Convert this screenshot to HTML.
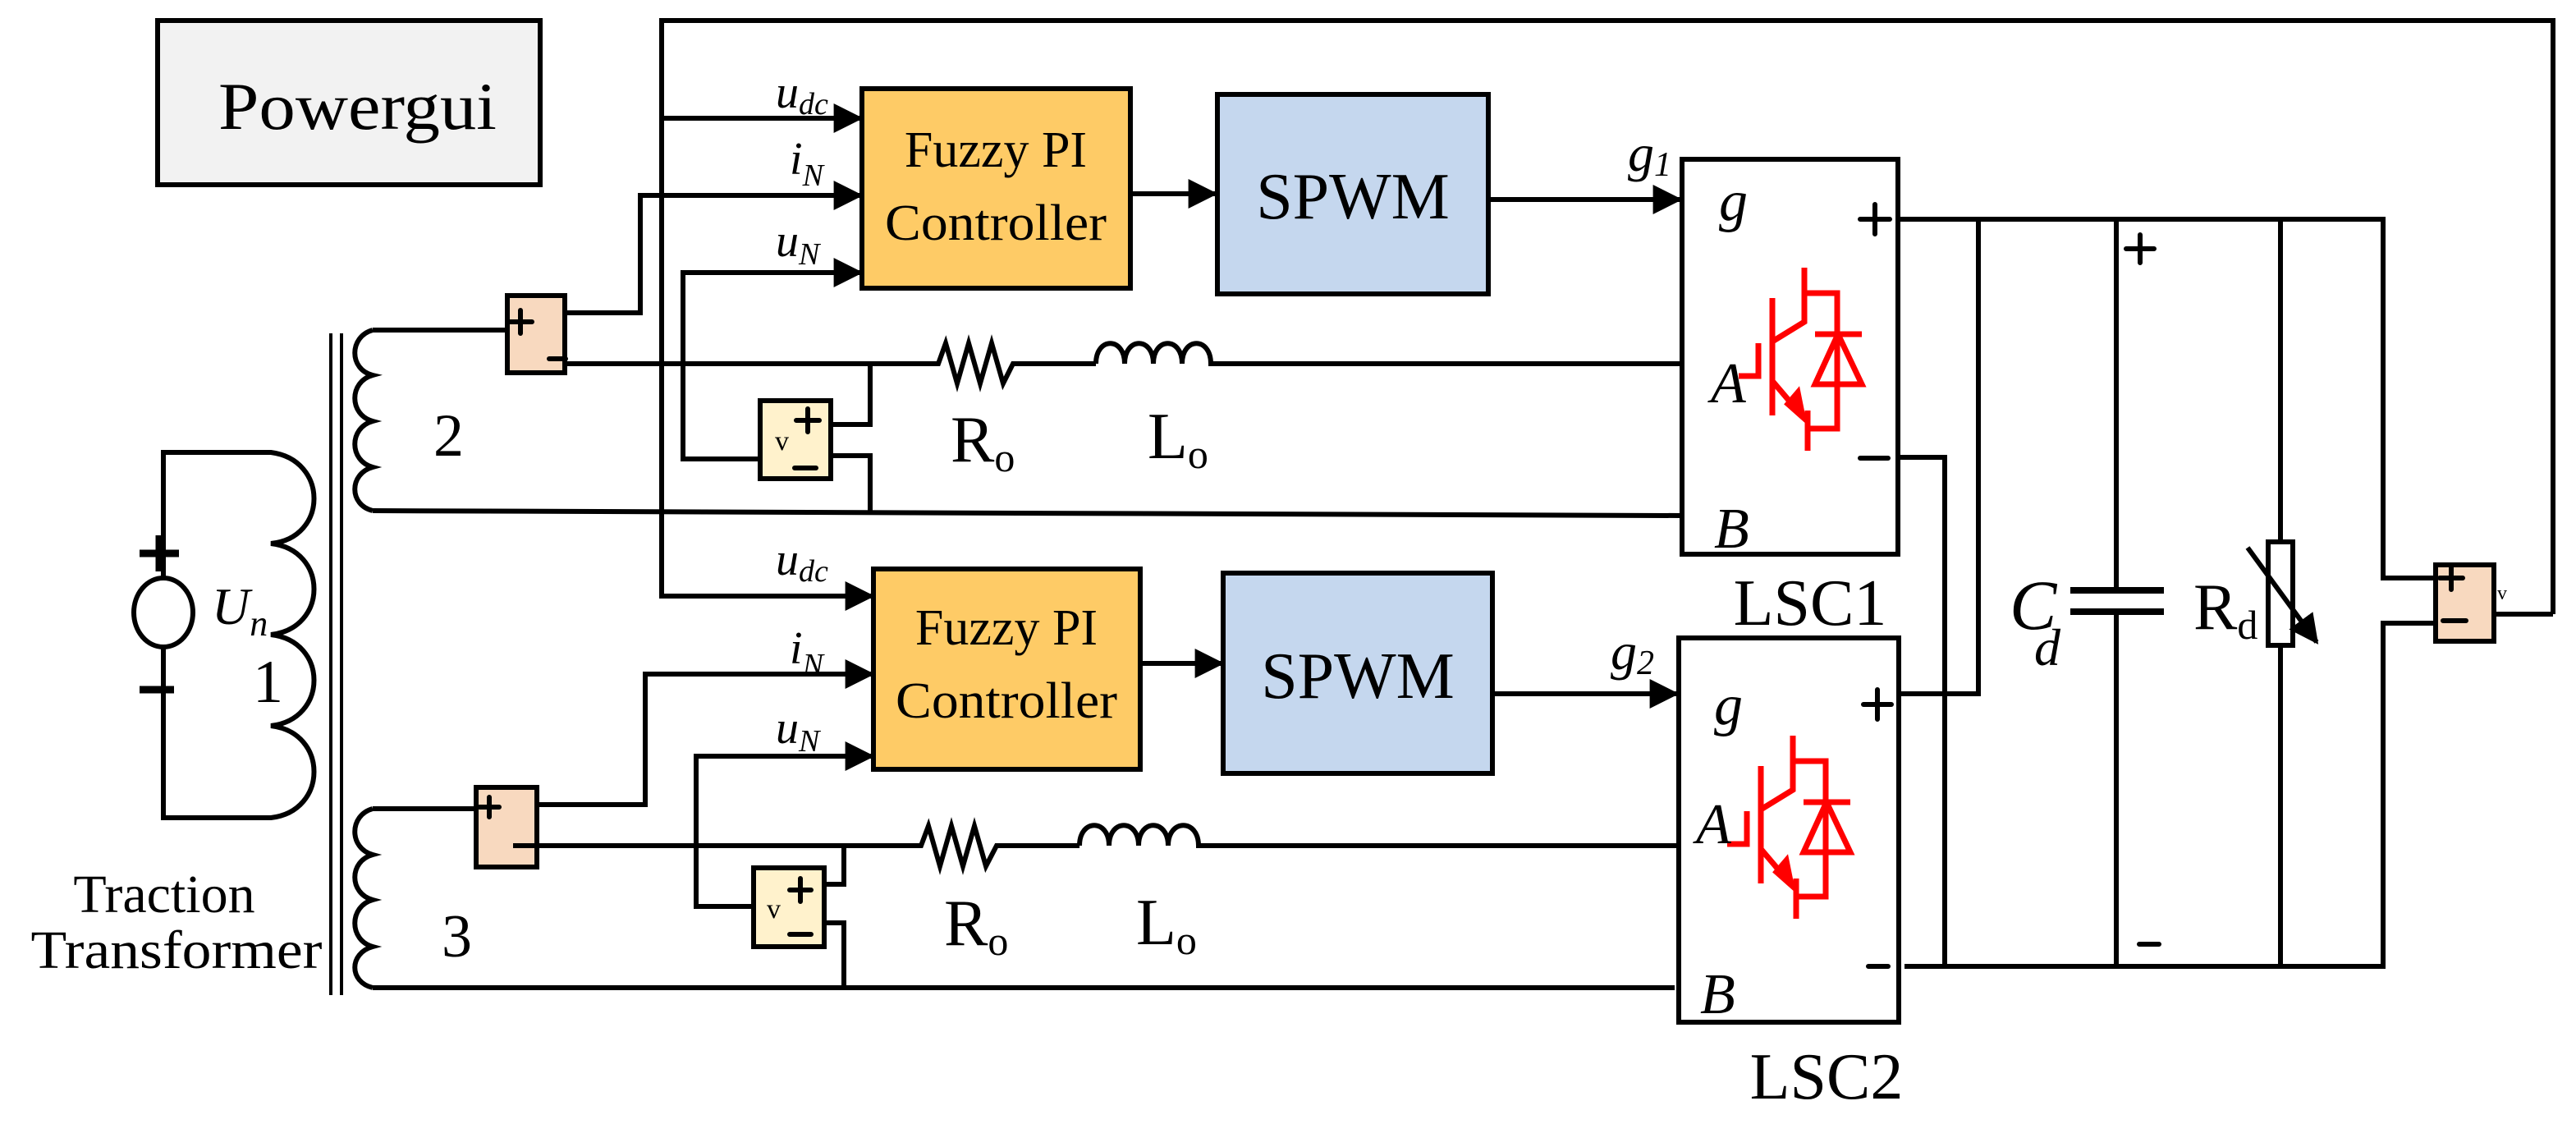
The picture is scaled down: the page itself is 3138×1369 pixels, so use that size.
<!DOCTYPE html>
<html><head><meta charset="utf-8"><style>html,body{margin:0;padding:0;background:#fff}svg{display:block}</style></head><body>
<svg width="3138" height="1369" viewBox="0 0 3138 1369" xmlns="http://www.w3.org/2000/svg" font-family="Liberation Serif, serif">
<defs>
<marker id="ar" viewBox="0 0 10 10" refX="9" refY="5" markerWidth="6" markerHeight="6" orient="auto" markerUnits="strokeWidth"><path d="M0,0L10,5L0,10z" fill="#000"/></marker>
<g id="igbt" fill="none" stroke="#f00" stroke-width="7">
<path d="M2198,326V392L2159,416"/>
<path d="M2159,363V506"/>
<path d="M2118,458H2142V418"/>
<path d="M2159,464L2193,504"/>
<path d="M2178,492L2196,508L2190,478z" fill="#f00"/>
<path d="M2202,500V549"/>
<path d="M2198,357H2238V522H2202"/>
<path d="M2211,407H2268M2239,407L2211,468H2268z"/>
</g>
</defs>
<g fill="none" stroke="#000" stroke-width="6">
<rect x="192" y="25" width="466" height="200" fill="#f2f2f2"/>
<path d="M3110,748V25H806V726H1062" marker-end="url(#ar)"/>
<path d="M806,144H1048" marker-end="url(#ar)"/>
<rect x="1050" y="108" width="327" height="243" fill="#fecb66"/>
<rect x="1483" y="115" width="330" height="243" fill="#c5d7ee"/>
<rect x="1064" y="693" width="325" height="244" fill="#fecb66"/>
<rect x="1490" y="698" width="328" height="244" fill="#c5d7ee"/>
<path d="M1377,236H1480" marker-end="url(#ar)"/>
<path d="M1389,808H1488" marker-end="url(#ar)"/>
<path d="M1813,243H2046" marker-end="url(#ar)"/>
<path d="M1818,845H2042" marker-end="url(#ar)"/>
<path d="M688,381H780V238H1048" marker-end="url(#ar)"/>
<path d="M926,559H832V332H1048" marker-end="url(#ar)"/>
<path d="M654,980H786V821H1062" marker-end="url(#ar)"/>
<path d="M918,1104H848V921H1062" marker-end="url(#ar)"/>
<rect x="2049" y="194" width="263" height="481" fill="#fff"/>
<rect x="2045" y="777" width="268" height="468" fill="#fff"/>
<path d="M403,406V1212M416,406V1212" stroke-width="4"/>
<path d="M199,704V551H330C400,560 400,655 330,662C400,670 400,765 330,773C400,781 400,876 330,884C400,892 400,988 330,996H199V788"/>
<ellipse cx="199" cy="746" rx="36" ry="42" fill="#fff"/>
<path d="M454,402C425,410 425,450 454,457C425,465 425,505 454,513C425,521 425,561 454,569C425,577 425,615 454,622"/>
<path d="M454,985C425,993 425,1033 454,1041C425,1049 425,1088 454,1096C425,1104 425,1145 454,1153C425,1161 425,1196 454,1203"/>
<path d="M454,402H618"/>
<rect x="618" y="360" width="70" height="94" fill="#f8d9bf"/>
<path d="M688,443H1143L1152,418L1166,467L1180,418L1194,467L1208,418L1222,467L1234,443H1335"/>
<path d="M1335,443C1335,410 1370,410 1370,443C1370,410 1405,410 1405,443C1405,410 1440,410 1440,443C1440,410 1475,410 1475,443H2049"/>
<path d="M1012,517H1060V443M1012,555H1060V622"/>
<rect x="926" y="488" width="86" height="95" fill="#fff2cc"/>
<path d="M454,622L2049,628"/>
<path d="M454,985H580"/>
<rect x="580" y="959" width="74" height="97" fill="#f8d9bf"/>
<path d="M625,1030H1122L1131,1006L1145,1055L1159,1006L1173,1055L1187,1006L1201,1055L1214,1030H1315"/>
<path d="M1315,1030C1315,997 1351,997 1351,1030C1351,997 1387,997 1387,1030C1387,997 1423,997 1423,1030C1423,997 1460,997 1460,1030H2045"/>
<path d="M1004,1077H1028V1030M1004,1124H1028V1203"/>
<rect x="918" y="1057" width="86" height="96" fill="#fff2cc"/>
<path d="M454,1203H2040"/>
<path d="M2312,267H2903V704H2967"/>
<path d="M2312,557H2369V1177"/>
<path d="M2313,845H2410V267"/>
<path d="M2320,1177H2903V759H2967"/>
<path d="M2578,267V719M2578,745V1177"/>
<path d="M2522,719H2636M2522,745H2636" stroke-width="8"/>
<path d="M2778,267V660M2778,786V1177"/>
<rect x="2763" y="660" width="30" height="126" fill="#fff"/>
<path d="M2738,667L2822,782" marker-end="url(#ar)"/>
<rect x="2967" y="688" width="71" height="93" fill="#f8d9bf"/>
<path d="M3038,748H3110"/>
<g stroke-width="6" stroke-linecap="round">
<path d="M620,392H648M634,378V406M669,437H689"/>
<path d="M584,983H608M596,971V995"/>
<path d="M970,512H998M984,498V526M968,570H994"/>
<path d="M962,1084H988M975,1070V1098M962,1138H988"/>
<path d="M2266,267H2302M2284,249V285M2266,558H2300"/>
<path d="M2270,858H2304M2287,840V876M2276,1177H2300"/>
<path d="M2590,303H2624M2607,286V320M2606,1150H2630"/>
<path d="M2972,704H3000M2986,690V718M2976,756H3004"/>
<path d="M170,674H218M194,652V696M170,840H212" stroke-width="9" stroke-linecap="butt"/>
</g>
</g>
<use href="#igbt"/>
<use href="#igbt" transform="translate(-14,570)"/>
<g fill="#000">
<text x="266" y="157" font-size="82" textLength="339" lengthAdjust="spacingAndGlyphs">Powergui</text>
<g font-size="62" text-anchor="middle">
<text x="1213" y="203">Fuzzy PI</text><text x="1213" y="292" textLength="270" lengthAdjust="spacingAndGlyphs">Controller</text>
<text x="1226" y="785">Fuzzy PI</text><text x="1226" y="874" textLength="270" lengthAdjust="spacingAndGlyphs">Controller</text>
</g>
<g font-size="80" text-anchor="middle">
<text x="1648" y="266">SPWM</text><text x="1654" y="850">SPWM</text>
<text x="2205" y="761">LSC1</text><text x="2225" y="1338">LSC2</text>
</g>
<g font-style="italic" font-size="56">
<text x="945" y="131">u<tspan font-size="38" dy="8">dc</tspan></text>
<text x="962" y="212">i<tspan font-size="38" dy="14">N</tspan></text>
<text x="945" y="312">u<tspan font-size="38" dy="10">N</tspan></text>
<text x="945" y="700">u<tspan font-size="38" dy="8">dc</tspan></text>
<text x="962" y="808">i<tspan font-size="38" dy="14">N</tspan></text>
<text x="945" y="905">u<tspan font-size="38" dy="10">N</tspan></text>
<text x="1983" y="208" font-size="64">g<tspan font-size="42" dy="6">1</tspan></text>
<text x="1962" y="815" font-size="64">g<tspan font-size="42" dy="6">2</tspan></text>
<text x="2094" y="268" font-size="70">g</text><text x="2088" y="882" font-size="70">g</text>
<text x="2084" y="490" font-size="70">A</text><text x="2066" y="1027" font-size="70">A</text>
<text x="2088" y="667" font-size="70">B</text><text x="2071" y="1234" font-size="70">B</text>
<text x="2448" y="766" font-size="86">C</text><text x="2478" y="810" font-size="64">d</text>
<text x="258" y="760" font-size="64">U<tspan font-size="44" dy="14">n</tspan></text>
</g>
<g font-size="80">
<text x="1158" y="562">R<tspan font-size="50" dy="12">o</tspan></text>
<text x="1398" y="558">L<tspan font-size="50" dy="12">o</tspan></text>
<text x="1150" y="1151">R<tspan font-size="50" dy="12">o</tspan></text>
<text x="1384" y="1150">L<tspan font-size="50" dy="12">o</tspan></text>
<text x="2672" y="766">R<tspan font-size="50" dy="12">d</tspan></text>
<text x="528" y="555" font-size="74">2</text>
<text x="308" y="855" font-size="74">1</text>
<text x="538" y="1165" font-size="74">3</text>
</g>
<g font-size="66" text-anchor="middle">
<text x="200" y="1111">Traction</text><text x="215" y="1179" textLength="355" lengthAdjust="spacingAndGlyphs">Transformer</text>
</g>
<text x="944" y="548" font-size="34">v</text>
<text x="934" y="1118" font-size="34">v</text>
<text x="3042" y="730" font-size="24">v</text>
</g>
</svg>
</body></html>
